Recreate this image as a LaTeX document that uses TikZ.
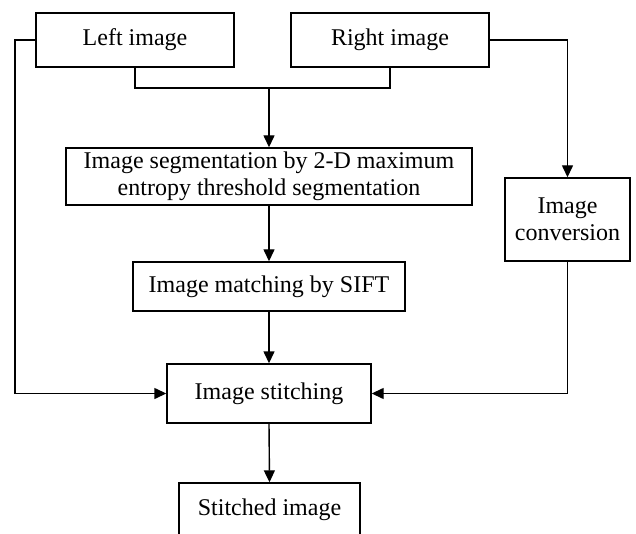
\documentclass[tikz,border=0pt]{standalone}
\usepackage{fontspec}
\setmainfont{Liberation Serif}
\usetikzlibrary{arrows.meta}
\begin{document}
\begin{tikzpicture}[x=1pt,y=-1pt,
  box/.style={draw,line width=1.4pt,inner sep=0pt,align=center,
    font=\fontsize{24}{26.5}\selectfont},
  conn/.style={line width=1.4pt},
  arr/.style={conn,-{Triangle[length=12pt,width=11pt]}}]
\useasboundingbox (0,0) rectangle (636,534);
\clip (0,0) rectangle (636,534);
\node[box,minimum width=198pt,minimum height=54pt] (left) at (135,40) {Left image};
\node[box,minimum width=198pt,minimum height=54pt] (right) at (390,40) {Right image};
\node[box,minimum width=406pt,minimum height=57pt] (seg) at (269,176.5)
  {Image segmentation by 2-D maximum\\entropy threshold segmentation};
\node[box,minimum width=272pt,minimum height=49pt] (match) at (269,286.5) {Image matching by SIFT};
\node[box,minimum width=125pt,minimum height=83pt] (conv) at (567.5,219.5) {Image\\conversion};
\node[box,minimum width=204pt,minimum height=59pt] (stitch) at (269,393.5) {Image stitching};
\node[box,minimum width=181pt,minimum height=54pt] (out) at (269.5,510) {Stitched image};
\coordinate (jn) at (269,88);
\coordinate (lc) at (15,40);
\draw[conn] (left.south) |- (jn) -| (right.south);
\draw[arr] (jn) -- (seg.north);
\draw[arr] (seg.south) -- (match.north);
\draw[arr] (match.south) -- (stitch.north);
\draw[arr] (stitch.south) -- (out.north);
\draw[arr] (left.west) -- (lc) |- (stitch.west);
\draw[arr] (right.east) -| (conv.north);
\draw[arr] (conv.south) |- (stitch.east);
\end{tikzpicture}
\end{document}
